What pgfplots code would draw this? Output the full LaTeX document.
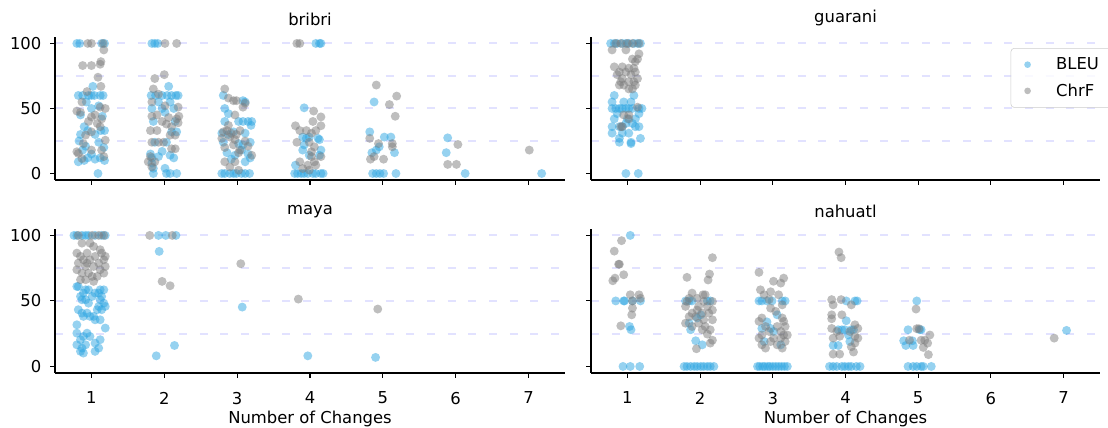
\documentclass[border=0pt]{standalone}
\usepackage{pgfplots}
\pgfplotsset{compat=1.18}
\usepackage{fontspec}
\setmainfont{DejaVu Sans}
\definecolor{bleu}{RGB}{45,165,225}
\definecolor{chrf}{RGB}{125,125,125}
\definecolor{gridc}{RGB}{226,226,255}
\newcommand{\fs}{\fontsize{12.3}{14.5}\selectfont}
\pgfplotsset{
  bl/.style={only marks, mark=*, mark size=3.35pt, mark options={draw opacity=0, line width=0pt, fill=bleu, fill opacity=0.5}},
  ch/.style={only marks, mark=*, mark size=3.35pt, mark options={draw opacity=0, line width=0pt, fill=chrf, fill opacity=0.5}},
  panel/.style={
    scale only axis, width=382.5pt,
    xmin=0.5, xmax=7.5, ymin=-5, ymax=105,
    axis x line*=bottom, axis y line*=left,
    axis line style={-, line width=0.8pt},
    xtick={1,2,3,4,5,6,7}, ytick={0,50,100},
    minor ytick={25,50,75,100}, yminorgrids,
    minor tick length=0pt,
    minor grid style={dash pattern=on 6pt off 9.5pt, line width=1.5pt, color=gridc},
    tick align=outside, major tick length=3.7pt,
    tick style={black, line width=0.8pt},
    /pgf/number format/assume math mode=true,
    ticklabel style={font=\fs},
    xticklabel style={yshift=-7pt},
    yticklabel style={xshift=-3pt},
    title style={font=\fs, yshift=-1pt},
    label style={font=\fs},
    xlabel style={at={(axis description cs:0.5,-0.232)}, anchor=north},
  }
}
\begin{document}
\begin{tikzpicture}
\useasboundingbox (0,0) rectangle (831pt,321pt);
% ---------------- bribri
\begin{axis}[panel, at={(41.25pt,186pt)}, anchor=south west, height=107.3pt, xticklabels={}, title={bribri}]
\addplot[bl] coordinates {
(0.80,100)(0.84,100)(1.14,100)(1.18,100)(0.82,60)(0.88,60)(0.96,60)(1.00,60)(1.04,60)(1.12,60)(1.16,60)(1.02,67)(0.93,55)(1.10,52)(1.00,50)(0.85,45)(1.15,44)(0.90,36)(0.95,33)(1.13,33)(1.18,33)(0.85,30)(1.05,30)(0.83,25)(1.10,24)(0.92,21)(0.88,18)(1.17,20)(1.00,15)(0.95,12)(1.05,11)(1.12,12)(0.90,10)(1.18,10)(0.82,9)(1.09,0)
(1.83,100)(1.87,100)(1.91,100)(2.06,67)(1.82,60)(1.88,60)(1.97,60)(2.04,60)(2.10,60)(2.16,60)(2.19,60)(1.92,55)(2.08,55)(1.83,50)(1.97,50)(2.13,50)(2.01,47)(1.85,40)(2.15,40)(2.10,32)(2.17,32)(1.87,24)(2.03,24)(1.81,15)(1.83,12)(1.92,13)(1.97,17)(2.08,14)(2.13,12)(1.83,8)(1.85,4)(2.01,4)(1.85,0)(2.03,0)(2.08,0)(2.17,0)
(2.81,60)(3.08,56)(3.11,55)(2.83,50)(2.88,46)(2.83,40)(3.02,40)(3.08,40)(3.15,40)(3.20,40)(3.19,37)(2.79,31)(2.88,30)(2.95,32)(3.11,31)(2.81,24)(3.02,23)(3.08,22)(3.18,24)(2.86,16)(2.97,14)(3.06,18)(3.15,15)(2.92,11)(3.11,9)(3.18,12)(2.79,0)(2.83,0)(2.90,0)(2.95,0)(2.99,0)(3.06,0)(3.11,0)(3.17,0)
(4.08,100)(4.13,100)(4.15,100)(3.92,50.5)(3.90,28)(3.95,27)(3.99,28)(4.11,27)(4.13,26)(3.92,22)(3.90,18)(4.15,18)(3.99,14)(4.13,14)(3.80,6.4)(3.79,0)(3.83,0)(3.88,0)(3.92,0)(3.97,0)(4.04,0)(4.08,0)(4.15,0)(4.18,0)
(4.88,55)(4.82,32)(5.02,28)(5.11,28)(4.95,20.5)(4.91,18)(4.85,16)(5.16,16)(4.86,0)(4.91,0)(4.96,0)(5.01,0)(5.18,0)
(5.89,27.4)(5.87,16)(6.13,0)(7.18,0)
};
\addplot[ch] coordinates {
(0.95,100)(1.00,100)(1.16,100)(1.17,95)(0.88,83)(1.00,83)(1.12,84)(1.13,86)(1.09,74)(1.13,67)(0.94,63)(0.87,55)(1.12,51)(1.19,50)(0.80,48)(0.85,47)(1.05,45)(1.00,43.5)(1.14,42)(0.96,40)(1.08,38.5)(1.12,36)(1.00,32)(0.92,29.5)(1.19,25.6)(0.89,23)(1.14,18)(0.80,16.7)(0.82,15.4)(1.00,18)(1.17,13)(0.87,11.5)
(2.01,100)(2.17,100)(2.00,76)(1.87,73)(1.85,65)(1.92,61)(1.83,55)(2.01,52)(2.19,51)(1.83,44)(1.90,45)(2.06,43)(2.17,42)(2.20,44)(1.97,40)(2.03,38)(2.10,36)(2.19,39)(1.81,33)(1.90,33)(2.08,29.5)(2.15,29.5)(1.83,24)(1.92,24)(1.99,24)(2.10,19)(2.15,19)(1.81,13)(1.78,9)(1.87,9)(1.83,5)
(2.83,65)(2.88,58)(2.95,56)(2.99,56)(3.11,54)(3.08,51)(2.97,45)(2.88,37)(2.81,32)(2.86,33)(2.92,31)(2.99,30)(3.04,33)(2.79,27)(2.90,28)(2.97,26)(3.11,25)(2.83,20)(2.95,22)(3.04,18)(3.15,21)(3.02,16)(3.20,14)(2.83,9)(2.97,9)(2.90,5)(3.02,2.5)
(3.82,100)(3.86,100)(4.05,48)(4.15,43.5)(4.04,40)(3.80,36.7)(4.15,36.7)(3.86,33)(3.95,33)(4.08,33)(4.02,31)(3.82,24)(3.99,24)(4.06,20.5)(4.02,16.7)(4.02,13)(4.15,13)(3.86,9)(4.06,9)(3.97,6.4)(4.08,6.4)(3.90,3.8)(3.99,2.6)
(4.91,68)(5.19,59.5)(5.09,53)(5.17,44)(4.82,27)(4.94,23)(5.13,23)(5.13,20.5)(4.88,13)(4.83,11)(5.01,11)
(6.03,22.3)(5.89,7)(6.01,7)(7.01,18)
};
\end{axis}
% ---------------- guarani
\begin{axis}[panel, at={(443.25pt,186pt)}, anchor=south west, height=107.3pt, width=381.75pt, xticklabels={}, yticklabels={}, title={guarani},
  legend style={at={(1.03,0.922)}, anchor=north east, draw=black!20, rounded corners=2.5pt, fill=white, fill opacity=0.8, text opacity=1, inner xsep=10pt, inner ysep=5pt, row sep=5pt},
  legend cell align=left]
\addlegendimage{only marks, mark=*, mark size=2.5pt, mark options={draw opacity=0, fill=bleu, fill opacity=0.5}}
\addlegendentry{\fs\hspace{17pt}BLEU}
\addlegendimage{only marks, mark=*, mark size=2.5pt, mark options={draw opacity=0, fill=chrf, fill opacity=0.5}}
\addlegendentry{\fs\hspace{17pt}ChrF}
\addplot[bl, forget plot] coordinates {
(0.77,100)(0.82,100)(0.86,100)(0.93,100)(0.98,100)(1.02,100)(1.09,100)(1.14,100)(1.18,100)
(0.82,60)(1.09,60)(0.79,55)(0.95,55)(1.05,55)
(0.79,50)(0.84,50)(0.89,50)(0.93,50)(0.98,50)(1.02,50)(1.07,50)(1.16,50)(1.20,50)
(0.86,46)(1.16,46)(0.82,42)(1.00,42)(1.11,42)(0.98,38.5)(1.07,38.5)
(0.79,36)(0.89,36)(0.93,36)(1.11,36)(1.16,36)(0.79,31)(0.93,31)(1.02,31)
(0.89,27)(1.18,27)(0.89,24)(1.05,24)(1.05,23)(0.98,0)(1.15,0)
};
\addplot[ch, forget plot] coordinates {
(0.84,100)(0.91,100)(1.00,100)(1.07,100)(1.16,100)(0.79,95)(0.98,95)(1.16,92)(1.07,88)(1.14,88)(1.11,86)
(0.82,82)(0.93,82)(1.02,81)(1.09,81)(0.89,78)(0.98,78)(1.11,78)(0.86,76)(1.05,76)(0.93,73)(1.14,73)
(0.91,70.5)(1.02,70.5)(1.09,70.5)(0.89,68)(0.95,68)(1.11,68)(1.02,65)(1.07,65)(1.14,51)(0.95,45)(1.02,45)(1.02,42)(0.91,36)(0.93,36)
};
\end{axis}
% ---------------- maya
\begin{axis}[panel, at={(41.25pt,41.25pt)}, anchor=south west, height=108.1pt, title={maya}, xlabel={Number of Changes}]
\addplot[bl] coordinates {
(0.76,100)(0.80,100)(0.87,100)(0.92,100)(0.96,100)(1.05,100)(1.14,100)(1.19,100)
(0.80,61)(0.82,61)(0.92,58.5)(0.96,58.5)(1.12,58.5)(1.17,58.5)(0.89,56)(1.05,56)(1.10,56)(0.85,53.4)(1.01,53.4)(1.14,53.4)
(0.87,50.9)(0.92,50.9)(1.12,50.9)(0.96,48.3)(1.17,48.3)(1.10,45.8)(1.19,45.8)(0.82,43.3)(1.08,43.3)(1.14,43.3)
(0.87,40.7)(0.94,40.7)(0.89,38.2)(0.98,38.2)(1.03,38.2)(1.05,35.6)(1.12,35.6)(0.80,31.8)(1.19,29.3)(0.80,25.4)(0.94,25.4)
(0.89,22.9)(0.98,22.9)(0.85,20.4)(1.12,20.4)(1.05,17.8)(0.80,16.5)(0.92,16.5)(0.87,14)(1.10,14)(0.85,11.5)(1.05,11.5)(0.89,10.2)
(1.92,100)(2.02,100)(2.16,100)(1.93,87.8)(2.14,16)(1.89,8.1)
(3.07,45.3)(3.97,8.1)(4.90,6.9)
};
\addplot[ch] coordinates {
(0.82,100)(1.01,100)(1.10,100)(1.17,100)(0.87,94.1)(0.98,94.1)(1.03,91.6)(1.12,89.1)(0.80,86.5)(0.94,86.5)(1.14,86.5)
(0.85,84)(1.05,84)(1.19,84)(0.89,81.4)(0.98,81.4)(1.17,81.4)(0.82,78.9)(0.94,78.9)(1.10,78.9)(0.92,76.3)(1.03,76.3)(1.19,76.3)
(0.80,73.8)(1.12,73.8)(0.87,71.2)(0.96,71.2)(1.17,71.2)(1.01,68.7)(1.08,68.7)(0.85,66.2)(0.92,66.2)(1.03,64.9)
(1.80,100)(2.11,100)(1.97,64.9)(2.08,61.6)
(3.05,78.4)(3.84,51.4)(4.93,43.8)
};
\end{axis}
% ---------------- nahuatl
\begin{axis}[panel, at={(443.25pt,41.25pt)}, anchor=south west, height=108.1pt, width=381.75pt, yticklabels={}, title={nahuatl}, xlabel={Number of Changes}]
\addplot[bl] coordinates {
(1.04,100)(0.84,50)(0.95,50)(0.96,50)(1.07,50)(1.18,50)(1.03,30.5)(1.05,28)(0.94,0)(1.04,0)(1.17,0)
(1.80,50)(1.85,50)(1.89,50)(2.10,50)(2.14,50)(2.01,39.4)(1.96,37)(1.85,33)(1.87,28)(1.94,19.6)(2.03,16.5)
(1.78,0)(1.82,0)(1.87,0)(1.92,0)(1.96,0)(2.01,0)(2.05,0)(2.10,0)(2.14,0)(2.19,0)
(2.81,50)(2.85,50)(2.92,50)(2.99,50)(3.13,50)(3.17,50)(3.06,39.4)(2.92,34)(2.85,29)(2.97,29)(3.01,26.7)(2.88,19)(3.11,16.5)
(2.79,0)(2.82,0)(2.86,0)(2.89,0)(2.93,0)(2.96,0)(3.00,0)(3.04,0)(3.08,0)(3.12,0)(3.16,0)(3.20,0)
(4.01,50)(4.13,50)(4.16,50)(4.01,34.9)(3.90,28)(3.95,28)(3.99,28)(4.08,28)(4.11,28)(4.04,24)(4.06,19)(3.83,16)(3.90,16)
(3.78,0)(3.83,0)(3.88,0)(3.95,0)(3.99,0)(4.04,0)(4.08,0)(4.15,0)(4.20,0)
(4.98,50)(4.86,28)(5.02,28)(5.04,28)(4.80,19.6)(4.92,19.6)(4.83,16)(4.93,16)
(4.86,0)(4.93,0)(4.98,0)(5.04,0)(5.07,0)(5.18,0)
(7.04,27.5)
};
\addplot[ch] coordinates {
(0.92,96)(0.82,88)(0.88,78)(0.89,78)(0.95,70)(0.83,67.4)(0.80,65.4)(1.04,54.7)(1.16,54.7)(1.18,52)(1.07,50)(1.07,44.5)(1.06,39.4)(0.91,31)
(2.17,83)(1.82,68)(2.13,70.5)(2.11,66)(1.89,56)(2.04,54.7)(2.07,54.7)(1.85,52)(1.96,52)(1.82,49.6)(2.05,49.6)(2.17,49.6)
(1.80,45.8)(1.98,45.8)(2.10,45.8)(1.96,43)(2.17,43)(1.89,40.7)(2.03,40.7)(2.12,40.7)(1.94,38)(1.85,38)(2.05,35.6)(2.17,35.6)
(1.80,33)(1.98,33)(1.89,30.5)(2.07,30.5)(2.03,28)(2.14,28)(2.10,24.7)(2.17,20)(2.14,17.8)(1.95,13.5)
(2.81,71.8)(3.15,67.4)(3.01,65)(3.11,63.6)(2.83,58.5)(2.97,57)(2.88,54.7)(3.08,54.7)(2.95,51)(3.13,47)(2.97,44.5)(3.04,42)
(2.85,37)(3.13,37)(2.81,34.4)(3.15,34.4)(2.90,30.5)(3.06,30.5)(3.17,30.5)(2.95,26.7)(3.11,26.7)(2.85,24)(3.15,24)(3.20,24)
(2.81,21.6)(3.01,21.6)(3.11,21.6)(2.97,19)(3.17,19)(2.85,16.5)(3.06,16.5)(2.90,14)(3.13,14)
(3.91,87.3)(3.94,83)(3.81,51)(3.94,51)(3.83,47)(4.08,47)(3.81,39.4)(3.95,39.4)(3.81,36.4)(4.13,31.8)(3.81,29)(4.17,29)
(3.88,26.7)(4.06,26.7)(3.92,23)(4.13,23)(3.83,21.6)(4.17,21.6)(4.13,17.8)(4.08,15)(4.11,11)(3.83,9.4)(3.92,9.4)
(4.97,43.8)(4.98,28.8)(5.01,28.8)(5.16,24)(4.88,20)(5.04,20)(5.09,20)(5.13,17.8)(5.07,14.5)(5.14,9)
(6.87,21.6)
};
\end{axis}
\end{tikzpicture}
\end{document}
